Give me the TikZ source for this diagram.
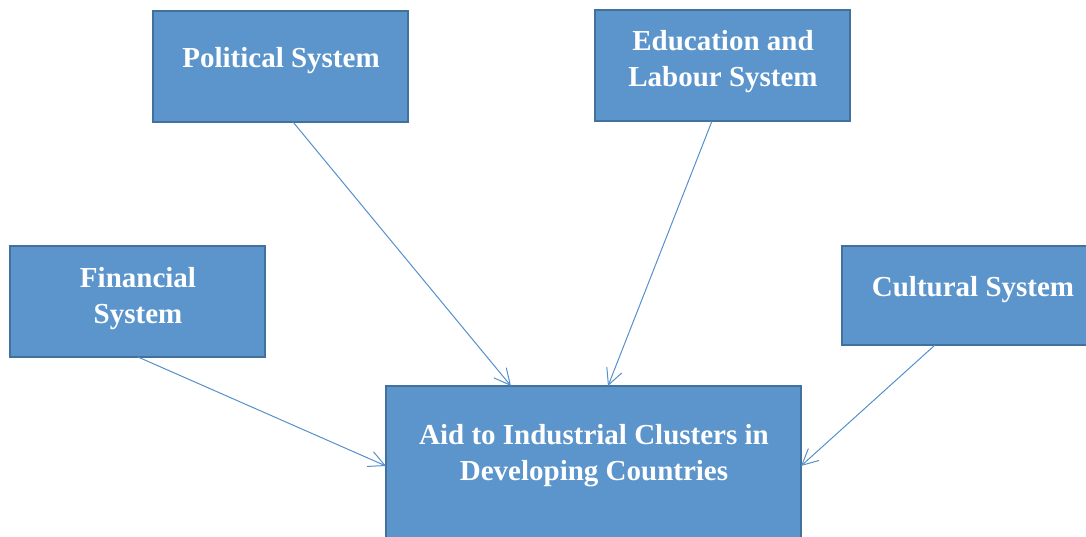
\documentclass[tikz,border=0pt]{standalone}
\usepackage{fontspec}
\setmainfont{Liberation Serif}
\usetikzlibrary{arrows.meta}
\definecolor{boxfill}{HTML}{5B95CB}
\definecolor{boxline}{HTML}{41719C}
\definecolor{arrowc}{HTML}{5590CC}
\begin{document}
\begin{tikzpicture}[x=1pt,y=-1pt,
  sysbox/.style={draw=boxline, fill=boxfill, line width=2pt, inner sep=0pt},
  systext/.style={text=white, font=\fontsize{29}{36}\selectfont\bfseries, align=center, inner sep=0pt},
  conn/.style={draw=arrowc, line width=1pt, -{Straight Barb[length=16pt,width=16pt,line width=1pt]}}]
\useasboundingbox (0,0) rectangle (1086,537);
\begin{scope}
\clip (0,0) rectangle (1086,537);
% boxes
\node[sysbox, minimum width=255pt, minimum height=111pt] (pol) at (280.5,66.5) {};
\node[sysbox, minimum width=255pt, minimum height=111pt] (edu) at (722.5,65.5) {};
\node[sysbox, minimum width=255pt, minimum height=111pt] (fin) at (137.5,301.5) {};
\node[sysbox, minimum width=255pt, minimum height=99pt] (cul) at (969,295.5) {};
\node[sysbox, minimum width=415pt, minimum height=170pt] (aid) at (593.5,471) {};
\end{scope}
% texts
\node[systext] (polt) at (281,61) {Political System};
\node[systext] (edut) at (723,62) {Education and\\Labour System};
\node[systext] (fint) at (138,299) {Financial\\System};
\node[systext] (cult) at (973,290) {Cultural System};
\node[systext] (aidt) at (594,456) {Aid to Industrial Clusters in\\Developing Countries};
% connectors
\coordinate (polS) at (293,122);
\coordinate (eduS) at (712,121);
\coordinate (finS) at (138,357);
\coordinate (culS) at (935,345);
\coordinate (aidA) at (511,386);
\coordinate (aidB) at (608,386);
\coordinate (aidL) at (386,466);
\coordinate (aidR) at (801,466);
\draw[conn] (polS) -- (aidA);
\draw[conn] (eduS) -- (aidB);
\draw[conn] (finS) -- (aidL);
\draw[conn] (culS) -- (aidR);
\end{tikzpicture}
\end{document}
